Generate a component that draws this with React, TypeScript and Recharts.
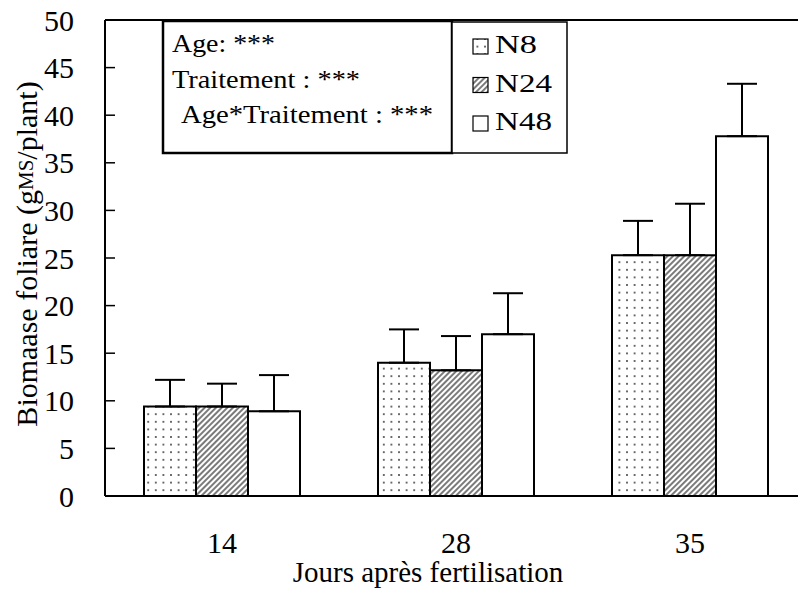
import { BarChart, Bar, XAxis, YAxis, ErrorBar, Legend, ReferenceLine, Label } from 'recharts';

const days = ['14', '28', '35'];
const series = ['N8', 'N24', 'N48'];
const n8 = [9.4, 14.0, 25.3];
const n24 = [9.4, 13.2, 25.3];
const n48 = [8.9, 17.0, 37.8];
const n8Err = [2.8, 3.5, 3.6];
const n24Err = [2.4, 3.6, 5.4];
const n48Err = [3.8, 4.3, 5.5];
const yTicks = [0, 5, 10, 15, 20, 25, 30, 35, 40, 45, 50];
const statLines = ['Age: ***', 'Traitement : ***', 'Age*Traitement : ***'];

const FONT = '"Liberation Serif", "Times New Roman", serif';

const data = days.map((day, i) => ({
  day,
  N8: n8[i],
  N24: n24[i],
  N48: n48[i],
  e8: [0, n8Err[i]],
  e24: [0, n24Err[i]],
  e48: [0, n48Err[i]],
}));

const fills: Record<string, string> = {
  N8: 'url(#lgDots)',
  N24: 'url(#lgHatch)',
  N48: '#fff',
};

// the scanned figure is stretched sideways, so widths are forced
const statWidths = [103, 188, 252];
const statX = [10, 10, 19];
const nameWidths: Record<string, number> = { N8: 42, N24: 57, N48: 57 };

function Patterns({ prefix }: { prefix: string }) {
  return (
    <defs>
      <pattern id={prefix + 'Dots'} width="7.6" height="7.6" patternUnits="userSpaceOnUse">
        <rect width="7.6" height="7.6" fill="#fff" />
        <circle cx="3.8" cy="3.8" r="0.9" fill="#222" />
      </pattern>
      <pattern id={prefix + 'Hatch'} width="4" height="4" patternUnits="userSpaceOnUse" patternTransform="rotate(45)">
        <rect width="4" height="4" fill="#fff" />
        <line x1="1" y1="0" x2="1" y2="4" stroke="#333" strokeWidth="1.3" />
      </pattern>
    </defs>
  );
}

function StatBox(props: any) {
  const payload: any[] = props.payload ?? [];
  const items = series.map((s) => payload.find((p) => p.value === s)).filter(Boolean);
  return (
    <svg width={410} height={136} style={{ display: 'block', overflow: 'visible' }}>
      <Patterns prefix="lg" />
      <rect x={1} y={1} width={289} height={132} fill="#fff" stroke="#000" strokeWidth={2.5} />
      <rect x={290} y={2} width={115} height={131} fill="#fff" stroke="#000" strokeWidth={1.5} />
      {statLines.map((t, i) => (
        <text
          key={t}
          x={statX[i]}
          y={32 + i * 35.5}
          fontFamily={FONT}
          fontSize={25}
          textLength={statWidths[i]}
          lengthAdjust="spacingAndGlyphs"
          fill="#000"
        >
          {t}
        </text>
      ))}
      {items.map((p: any, i: number) => (
        <g key={p.value}>
          <rect x={311} y={19 + i * 38.5} width={15} height={15} fill={fills[p.value]} stroke="#000" strokeWidth={1.2} />
          <text
            x={333}
            y={33 + i * 38.5}
            fontFamily={FONT}
            fontSize={26}
            textLength={nameWidths[p.value]}
            lengthAdjust="spacingAndGlyphs"
            fill="#000"
          >
            {p.value}
          </text>
        </g>
      ))}
    </svg>
  );
}

function YTick(props: any) {
  const { y, payload } = props;
  return (
    <g>
      <line x1={105} x2={115} y1={y} y2={y} stroke="#000" strokeWidth={1.5} />
      <text x={74} y={y} textAnchor="end" dominantBaseline="central" fontFamily={FONT} fontSize={30} fill="#000">
        {payload.value}
      </text>
    </g>
  );
}

function YTitle(props: any) {
  const vb = props.viewBox;
  const cy = vb.y + vb.height / 2 - 4;
  return (
    <text x={26} y={cy} transform={`rotate(-90, 26, ${cy})`} textAnchor="middle" dominantBaseline="central" fontFamily={FONT} fontSize={30} fill="#000">
      Biomaase foliare (g<tspan fontSize={21}>MS</tspan>/plant)
    </text>
  );
}

function XTitle() {
  return (
    <text x={428} y={582} textAnchor="middle" fontFamily={FONT} fontSize={29} fill="#000">
      Jours après fertilisation
    </text>
  );
}

export default function App() {
  return (
    <div style={{ position: 'absolute', left: 0, top: 0, width: 798, height: 590, overflow: 'hidden', background: '#fff' }}>
      <BarChart
        width={830}
        height={590}
        data={data}
        margin={{ top: 20, right: 23, left: 45, bottom: 0 }}
        barGap={0}
        barCategoryGap={39}
      >
        <Patterns prefix="bar" />
        <XAxis
          dataKey="day"
          height={94}
          tickLine={false}
          tickSize={0}
          tickMargin={36}
          axisLine={{ stroke: '#000', strokeWidth: 2 }}
          tick={{ fill: '#000', fontSize: 30, fontFamily: FONT }}
        >
          <Label content={<XTitle />} />
        </XAxis>
        <YAxis
          width={60}
          domain={[0, 50]}
          ticks={yTicks}
          interval={0}
          tickSize={0}
          tickLine={false}
          axisLine={{ stroke: '#000', strokeWidth: 2 }}
          tick={<YTick />}
        >
          <Label content={<YTitle />} />
        </YAxis>
        <ReferenceLine y={50} stroke="#000" strokeWidth={2} />
        <Legend
          layout="horizontal"
          align="center"
          verticalAlign="middle"
          wrapperStyle={{ top: 20, left: 162, width: 410, height: 136 }}
          content={<StatBox />}
        />
        <Bar dataKey="N8" barSize={52} fill="url(#barDots)" stroke="#000" strokeWidth={2} isAnimationActive={false}>
          <ErrorBar dataKey="e8" direction="y" width={15} stroke="#000" strokeWidth={2} />
        </Bar>
        <Bar dataKey="N24" barSize={52} fill="url(#barHatch)" stroke="#000" strokeWidth={2} isAnimationActive={false}>
          <ErrorBar dataKey="e24" direction="y" width={15} stroke="#000" strokeWidth={2} />
        </Bar>
        <Bar dataKey="N48" barSize={52} fill="#fff" stroke="#000" strokeWidth={2} isAnimationActive={false}>
          <ErrorBar dataKey="e48" direction="y" width={15} stroke="#000" strokeWidth={2} />
        </Bar>
      </BarChart>
    </div>
  );
}
